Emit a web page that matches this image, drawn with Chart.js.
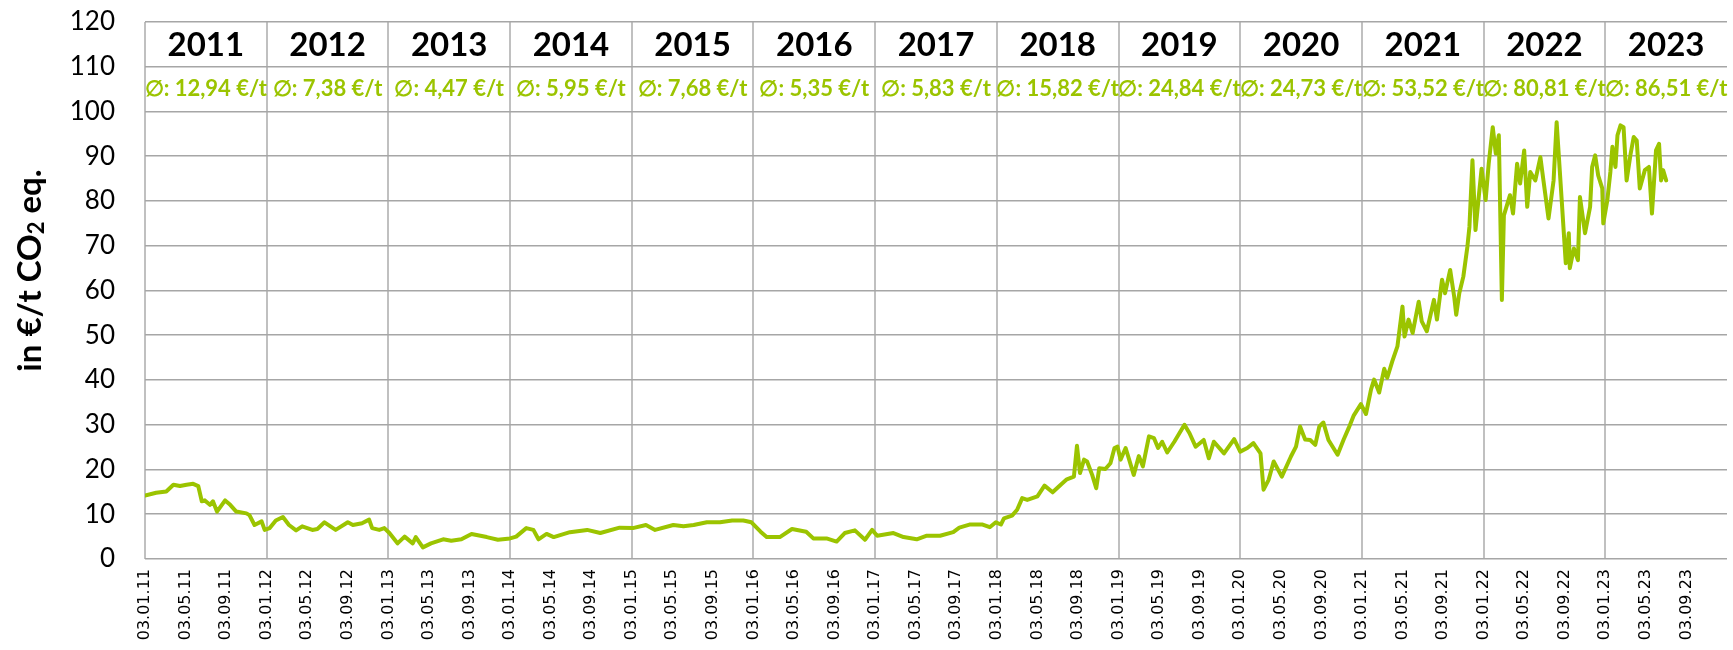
<!DOCTYPE html>
<html>
<head>
<meta charset="utf-8">
<title>CO2-Preis</title>
<script src="https://cdn.jsdelivr.net/npm/chart.js@4.4.1/dist/chart.umd.min.js"></script>
<style>
    html, body { margin: 0; padding: 0; background: #fff; }
    #wrap { width: 1733px; height: 650px; position: relative; }
</style>
</head>
<body>
<div id="wrap"><canvas id="co2-chart"></canvas></div>
<script>
// Months since 03.01.11 and the EUA price (€/t) at that point
const months = [
    0, 1.1, 2.1, 2.8, 3.45, 4.1, 4.75, 5.25, 5.6, 5.9, 6.4, 6.7, 7.1, 7.9, 8.4, 9.0, 10.0, 10.3, 10.8, 11.5,
    11.8, 12.3, 12.9, 13.6, 14.2, 14.9, 15.5, 16.5, 17.0, 17.7, 18.8, 20.0, 20.5, 21.4, 22.1, 22.4, 23.1, 23.6,
    24.1, 24.9, 25.6, 26.4, 26.7, 27.4, 28.2, 29.4, 30.2, 31.2, 32.2, 33.7, 34.8, 36.0, 36.6, 37.6, 38.3, 38.8,
    39.6, 40.3, 41.9, 43.6, 44.9, 46.8, 48.1, 49.4, 50.3, 52.1, 53.1, 54.1, 55.4, 56.7, 57.9, 59.0, 59.8,
    60.7, 61.3, 62.6, 63.8, 65.2, 65.9, 67.2, 68.2, 69.0, 70.0, 71.0, 71.7, 72.2, 73.8, 74.8, 76.1, 77.1, 78.4,
    79.7, 80.3, 81.3, 82.6, 83.3, 83.9, 84.4, 84.7, 85.5, 86.0, 86.5, 87.0, 87.5, 88.0, 88.7, 89.5, 90.3, 90.9,
    91.6, 91.9, 92.2, 92.6, 92.9, 93.4, 93.8, 94.1, 94.7, 95.2, 95.6, 95.9, 96.2, 96.7, 97.5, 98.0, 98.4,
    99.0, 99.5, 99.9, 100.3, 100.8, 101.5, 102.0, 102.5, 103.0, 103.6, 104.4, 104.9, 105.4, 106.4, 107.4,
    108.0, 108.7, 109.3, 110.0, 110.3, 110.8, 111.3, 112.1, 113.0, 113.5, 113.9, 114.4, 114.9, 115.4, 115.8,
    116.2, 116.7, 117.6, 118.2, 118.7, 119.2, 119.9, 120.4, 120.9, 121.2, 121.7, 122.2, 122.5, 123.0, 123.5,
    124.0, 124.2, 124.6, 125.0, 125.6, 125.9, 126.4, 127.1, 127.4, 127.9, 128.2, 128.7, 129.1, 129.3, 129.6,
    130.0, 130.4, 130.6, 130.9, 131.2, 131.5, 131.8, 132.2, 132.5, 132.9, 133.2, 133.5, 133.8, 134.0, 134.6,
    134.9, 135.3, 135.6, 136.0, 136.3, 136.6, 137.1, 137.6, 137.9, 138.4, 138.9, 139.2, 139.7, 140.1, 140.4,
    140.5, 140.9, 141.3, 141.5, 142.0, 142.5, 142.7, 143.0, 143.3, 143.7, 143.8, 144.2, 144.5, 144.7, 145.0,
    145.2, 145.5, 145.8, 146.1, 146.5, 146.8, 147.1, 147.4, 147.9, 148.3, 148.6, 149.0, 149.3, 149.5, 149.7, 150.0
]
const prices = [
    14.2, 14.8, 15.1, 16.6, 16.3, 16.6, 16.8, 16.3, 12.9, 13.1, 12.1, 12.9, 10.6, 13.1, 12.1, 10.6, 10.2, 9.8, 7.6, 8.4,
    6.5, 6.9, 8.6, 9.4, 7.6, 6.4, 7.3, 6.5, 6.7, 8.2, 6.5, 8.2, 7.6, 8.0, 8.8, 6.9, 6.5, 6.9,
    5.8, 3.5, 5.0, 3.5, 4.9, 2.6, 3.5, 4.4, 4.1, 4.4, 5.6, 4.9, 4.3, 4.6, 5.0, 6.9, 6.5, 4.4,
    5.6, 4.9, 6.0, 6.5, 5.8, 7.0, 6.9, 7.6, 6.5, 7.6, 7.3, 7.6, 8.2, 8.2, 8.6, 8.6, 8.2,
    6.1, 4.9, 4.9, 6.7, 6.1, 4.6, 4.6, 3.9, 5.8, 6.4, 4.3, 6.5, 5.2, 5.8, 4.9, 4.4, 5.2, 5.2,
    6.0, 7.0, 7.7, 7.7, 7.1, 8.2, 7.7, 9.1, 9.7, 11.0, 13.6, 13.2, 13.6, 14.0, 16.4, 14.9, 16.6, 17.8,
    18.4, 25.3, 19.2, 22.2, 21.8, 18.8, 15.8, 20.3, 20.1, 21.4, 24.8, 25.1, 22.2, 24.8, 18.8, 23.0, 20.7,
    27.4, 27.0, 24.8, 26.2, 23.8, 26.2, 28.1, 30.0, 28.1, 25.1, 26.6, 22.5, 26.2, 23.6, 26.8,
    24.0, 24.8, 25.9, 23.6, 15.5, 17.7, 21.8, 18.4, 22.9, 25.1, 29.6, 26.7, 26.6, 25.5, 29.6,
    30.5, 26.6, 23.3, 26.7, 29.3, 32.1, 34.6, 32.4, 37.9, 40.1, 37.2, 42.5, 40.5, 44.2, 47.5,
    56.4, 49.7, 53.5, 50.5, 57.5, 53.1, 50.9, 57.9, 53.5, 62.4, 59.4, 64.6, 58.6, 54.6, 59.4,
    63.1, 69.8, 74.2, 89.1, 73.5, 80.5, 87.2, 80.2, 88.3, 96.5, 90.6, 94.7, 57.9, 76.8, 81.3,
    77.2, 88.3, 83.9, 91.3, 78.7, 86.5, 84.6, 89.8, 84.6, 76.1, 84.6, 97.6, 80.2, 66.1, 72.8,
    65.0, 69.4, 66.8, 80.9, 72.8, 78.7, 87.6, 90.2, 85.7, 82.8, 75.0, 80.2, 86.5, 92.1, 87.6,
    94.7, 96.9, 96.5, 84.6, 90.6, 94.3, 93.5, 82.8, 86.9, 87.6, 77.2, 91.3, 92.8, 84.6, 86.9, 84.6
]

// Axis labels every four months
const tickLabels = []
for (let yy = 11; yy <= 23; yy++) {
    for (const mm of ['01', '05', '09']) tickLabels.push(`03.${mm}.${yy}`)
}

// Year header and yearly average price
const years = ['2011', '2012', '2013', '2014', '2015', '2016', '2017', '2018', '2019', '2020', '2021', '2022', '2023']
const averages = [12.94, 7.38, 4.47, 5.95, 7.68, 5.35, 5.83, 15.82, 24.84, 24.73, 53.52, 80.81, 86.51]

const green = '#9bc400'
const lastMonth = 156

// Year names and averages in the two top rows of the grid
const yearTable = {
    id: 'yearTable',
    afterDatasetsDraw(chart) {
        const { ctx, scales: { x, y } } = chart
        ctx.save()
        ctx.textAlign = 'center'
        ctx.textBaseline = 'middle'
        years.forEach((year, i) => {
            const cx = x.getPixelForValue(i * 12 + 6)
            ctx.font = 'bold 33px Lato'
            ctx.fillStyle = '#000'
            ctx.fillText(year, cx, y.getPixelForValue(115) + 1)
            ctx.font = 'bold 22px Lato'
            ctx.fillStyle = green
            ctx.fillText(`∅: ${averages[i].toFixed(2).replace('.', ',')} €/t`, cx, y.getPixelForValue(105))
        })
        ctx.restore()
    }
}

// Rotated y axis title with a real subscript in CO2
const axisTitle = {
    id: 'axisTitle',
    afterDraw(chart) {
        const { ctx, chartArea } = chart
        const parts = [
            { text: 'in €/t CO', size: 33, dy: 0 },
            { text: '2', size: 22, dy: 7 },
            { text: ' eq.', size: 33, dy: 0 }
        ]
        ctx.save()
        let total = 0
        parts.forEach(p => {
            ctx.font = `bold ${p.size}px Lato`
            p.w = ctx.measureText(p.text).width
            total += p.w
        })
        ctx.translate(30, (chartArea.top + chartArea.bottom) / 2 - 20)
        ctx.rotate(-Math.PI / 2)
        ctx.fillStyle = '#000'
        ctx.textBaseline = 'middle'
        let pos = -total / 2
        parts.forEach(p => {
            ctx.font = `bold ${p.size}px Lato`
            ctx.fillText(p.text, pos, p.dy)
            pos += p.w
        })
        ctx.restore()
    }
}

new Chart(document.getElementById('co2-chart'), {
    type: 'line',
    data: {
        datasets: [{
            label: 'CO2',
            data: months.map((m, i) => ({ x: m, y: prices[i] })),
            borderColor: green,
            borderWidth: 4,
            borderJoinStyle: 'round',
            borderCapStyle: 'round',
            pointRadius: 0,
            tension: 0
        }]
    },
    options: {
        responsive: true,
        maintainAspectRatio: false,
        animation: false,
        layout: { padding: { top: 22, right: 6, left: 0, bottom: 0 } },
        plugins: {
            legend: { display: false },
            tooltip: { enabled: false }
        },
        scales: {
            x: {
                type: 'linear',
                min: 0,
                max: lastMonth,
                afterFit: scale => {
                    scale.height = 91
                    scale.paddingLeft = 0
                    scale.paddingRight = 0
                },
                border: { display: false },
                grid: {
                    drawTicks: false,
                    lineWidth: 2,
                    color: ctx => (ctx.tick && ctx.tick.value % 12 === 0 && ctx.tick.value < lastMonth) ? '#c0c0c0' : 'rgba(0,0,0,0)'
                },
                ticks: {
                    stepSize: 4,
                    autoSkip: false,
                    minRotation: 90,
                    maxRotation: 90,
                    padding: 10,
                    color: '#000',
                    font: { family: 'DejaVu Sans', size: 16 },
                    callback: value => tickLabels[value / 4] ?? ''
                }
            },
            y: {
                min: 0,
                max: 120,
                afterFit: scale => {
                    scale.width = 145
                    scale.paddingTop = 0
                    scale.paddingBottom = 0
                },
                border: { display: false },
                grid: { drawTicks: false, color: '#a6a6a6', lineWidth: 1.6 },
                ticks: {
                    stepSize: 10,
                    padding: 30,
                    color: '#000',
                    font: { family: 'Lato', size: 26 }
                }
            }
        }
    },
    plugins: [yearTable, axisTitle]
})
</script>
</body>
</html>
